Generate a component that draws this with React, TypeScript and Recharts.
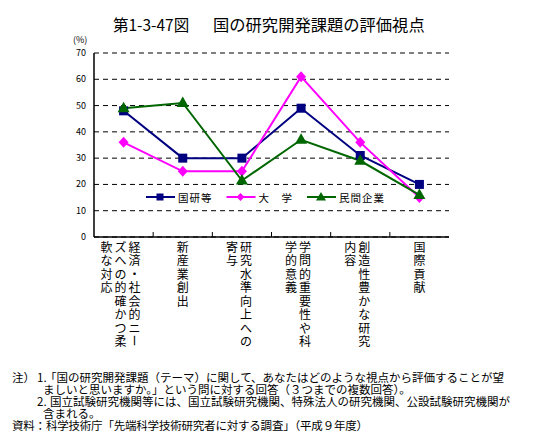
import React from 'react';
import { LineChart, Line, XAxis, YAxis, CartesianGrid, Legend } from 'recharts';

const categories = [
  '経済・社会的ニーズへの的確かつ柔軟な対応',
  '新産業創出',
  '研究水準向上への寄与',
  '学問的重要性や科学的意義',
  '創造性豊かな研究内容',
  '国際貢献',
];
const kokukenValues = [48, 30, 30, 49, 31, 20];
const daigakuValues = [36, 25, 25, 61, 36, 15];
const minkanValues = [49, 51, 21.5, 37, 29, 16];
const seriesNames = ['国研等', '大　学', '民間企業'];
const yTicks = [0, 10, 20, 30, 40, 50, 60, 70];

const data = categories.map((name, i) => ({
  name,
  kokuken: kokukenValues[i],
  daigaku: daigakuValues[i],
  minkan: minkanValues[i],
}));

const NAVY = '#000080';
const MAGENTA = '#FF00FF';
const GREEN = '#006600';
const FONT = '"Noto Sans CJK JP", "Noto Sans", sans-serif';

const CHART_W = 541;
const CHART_H = 360;
const M = { top: 53, right: 92, bottom: 13, left: 64 };
const YAXIS_W = 30;
const XAXIS_H = 110;
const PLOT_W = CHART_W - M.left - M.right - YAXIS_W;
const STEP = PLOT_W / categories.length;

const SquareDot = (p: any) => (
  <rect key={`sq${p.index}`} x={p.cx - 4.5} y={p.cy - 4.5} width={9} height={9} fill={NAVY} />
);
const DiamondDot = (p: any) => (
  <polygon
    key={`di${p.index}`}
    points={`${p.cx},${p.cy - 5.5} ${p.cx + 5},${p.cy} ${p.cx},${p.cy + 5.5} ${p.cx - 5},${p.cy}`}
    fill={MAGENTA}
  />
);
const TriangleDot = (p: any) => (
  <polygon
    key={`tr${p.index}`}
    points={`${p.cx},${p.cy - 6.5} ${p.cx + 6},${p.cy + 4} ${p.cx - 6},${p.cy + 4}`}
    fill={GREEN}
  />
);

const YTick = (props: any) => {
  const { x, y, payload } = props;
  return (
    <text x={x} y={y} dy={3} textAnchor="end" fontSize={9} fontFamily={FONT} fill="#000">
      {payload.value}
    </text>
  );
};

const CatTick = (props: any) => {
  const { x, y, payload, index } = props;
  const text: string = String(payload.value);
  const cols: string[] = [];
  for (let i = 0; i < text.length; i += 8) cols.push(text.slice(i, i + 8));
  const n = cols.length;
  const shift = n > 1 ? -3 : 0;
  return (
    <g>
      {index > 0 && (
        <line x1={x - STEP / 2} x2={x - STEP / 2} y1={y} y2={y - 5} stroke="#000" strokeWidth={1} />
      )}
      {cols.map((col, ci) => {
        const cx = x + ((n - 1) / 2 - ci) * 14 + shift;
        return Array.from(col).map((ch, j) => {
          const cy = y + 9 + j * 13.5;
          return (
            <text
              key={`${ci}-${j}`}
              x={cx}
              y={cy}
              textAnchor="middle"
              dominantBaseline="central"
              fontSize={12}
              fontFamily={FONT}
              fill="#000"
              transform={ch === 'ー' ? `rotate(90 ${cx} ${cy})` : undefined}
            >
              {ch}
            </text>
          );
        });
      })}
    </g>
  );
};

const markerFor = (i: number, cx: number, cy: number, color: string) => {
  if (i === 0) return <rect x={cx - 3.5} y={cy - 3.5} width={7} height={7} fill={color} />;
  if (i === 1)
    return <polygon points={`${cx},${cy - 4} ${cx + 4},${cy} ${cx},${cy + 4} ${cx - 4},${cy}`} fill={color} />;
  return <polygon points={`${cx},${cy - 5} ${cx + 5},${cy + 3.5} ${cx - 5},${cy + 3.5}`} fill={color} />;
};

const LegendContent = (props: any) => {
  const payload = props.payload || [];
  return (
    <svg width={260} height={16} style={{ display: 'block' }}>
      {payload.map((entry: any, i: number) => {
        const x0 = i * 80.5;
        return (
          <g key={i}>
            <line x1={x0} x2={x0 + 29} y1={8} y2={8} stroke={entry.color} strokeWidth={2} />
            {markerFor(i, x0 + 14, 8, entry.color)}
            <text
              x={x0 + 32}
              y={8}
              dominantBaseline="central"
              fontSize={10.5}
              letterSpacing={1}
              fontFamily={FONT}
              fill="#000"
            >
              {entry.value}
            </text>
          </g>
        );
      })}
    </svg>
  );
};

const abs = (left: number, top: number, size: number, extra: any = {}) => ({
  position: 'absolute' as const,
  left,
  top,
  fontSize: size,
  lineHeight: '12px',
  fontFamily: FONT,
  whiteSpace: 'nowrap' as const,
  color: '#000',
  ...extra,
});

export default function App() {
  return (
    <div
      style={{
        position: 'absolute',
        left: 0,
        top: 0,
        width: 541,
        height: 447,
        background: '#fff',
        overflow: 'hidden',
      }}
    >
      <div style={abs(113, 16, 15.5, { lineHeight: '16px' })}>第1-3-47図</div>
      <div style={abs(213, 16, 16.3, { lineHeight: '16px' })}>国の研究開発課題の評価視点</div>
      <div style={abs(73, 35, 9, { lineHeight: '10px' })}>(%)</div>

      <LineChart width={CHART_W} height={CHART_H} data={data} margin={M}>
        <CartesianGrid vertical={false} stroke="#000" strokeDasharray="5 4" />
        <XAxis
          dataKey="name"
          scale="band"
          interval={0}
          height={XAXIS_H}
          tickLine={false}
          tickSize={0}
          tickMargin={0}
          axisLine={{ stroke: '#000', strokeWidth: 1.5 }}
          tick={<CatTick />}
        />
        <XAxis
          xAxisId="top"
          orientation="top"
          dataKey="name"
          scale="band"
          height={0}
          tick={false}
          tickLine={false}
          axisLine={{ stroke: '#000', strokeWidth: 1.5 }}
        />
        <YAxis
          width={YAXIS_W}
          domain={[0, 70]}
          ticks={yTicks}
          interval={0}
          tickLine={false}
          tickSize={0}
          tickMargin={8}
          axisLine={{ stroke: '#000', strokeWidth: 1.5 }}
          tick={<YTick />}
        />
        <YAxis
          yAxisId="right"
          orientation="right"
          width={0}
          domain={[0, 70]}
          tick={false}
          tickLine={false}
          axisLine={{ stroke: '#000', strokeWidth: 1.5 }}
        />
        <Legend
          layout="horizontal"
          verticalAlign="middle"
          align="center"
          wrapperStyle={{ position: 'absolute', left: 146, top: 189, width: 260, height: 16 }}
          content={<LegendContent />}
        />
        <Line
          name={seriesNames[0]}
          dataKey="kokuken"
          stroke={NAVY}
          strokeWidth={2}
          dot={SquareDot}
          activeDot={false}
          isAnimationActive={false}
        />
        <Line
          name={seriesNames[1]}
          dataKey="daigaku"
          stroke={MAGENTA}
          strokeWidth={2}
          dot={DiamondDot}
          activeDot={false}
          isAnimationActive={false}
        />
        <Line
          name={seriesNames[2]}
          dataKey="minkan"
          stroke={GREEN}
          strokeWidth={2}
          dot={TriangleDot}
          activeDot={false}
          isAnimationActive={false}
        />
      </LineChart>

      <div style={abs(12, 371, 11.5)}>注）</div>
      <div style={abs(37, 371, 11.5)}>1.</div>
      <div style={abs(45, 371, 11.5)}>「国の研究開発課題（テーマ）に関して、あなたはどのような視点から評価することが望</div>
      <div style={abs(43, 383, 11.5)}>ましいと思いますか。」という問に対する回答（３つまでの複数回答）。</div>
      <div style={abs(37, 395, 11.5)}>2.</div>
      <div style={abs(50, 395, 11.5)}>国立試験研究機関等には、国立試験研究機関、特殊法人の研究機関、公設試験研究機関が</div>
      <div style={abs(43, 407, 11.5)}>含まれる。</div>
      <div style={abs(12, 419, 11.5, { letterSpacing: -0.2 })}>資料：科学技術庁「先端科学技術研究者に対する調査」（平成９年度）</div>
    </div>
  );
}
